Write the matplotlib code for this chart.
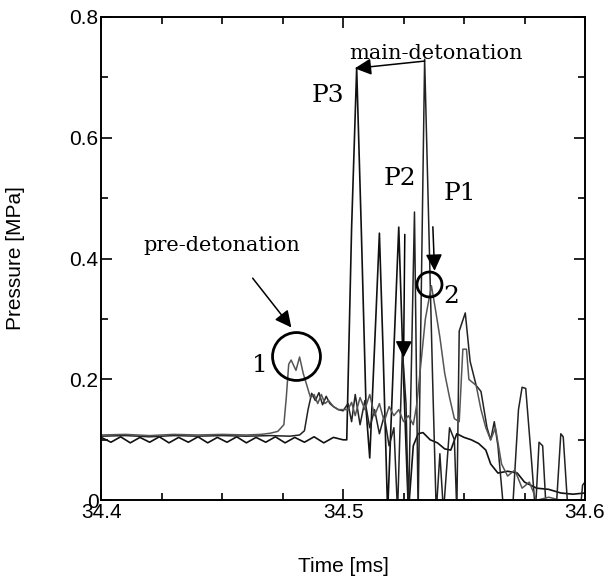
import matplotlib
matplotlib.use("Agg")
import matplotlib.pyplot as plt
from matplotlib.ticker import MultipleLocator

# trace P3 (black): flat oscillating baseline, main detonation peak at 34.5056
t_p3 = [34.400, 34.404, 34.408, 34.412, 34.416, 34.420, 34.424, 34.428, 34.432, 34.436,
        34.440, 34.444, 34.448, 34.452, 34.456, 34.460, 34.464, 34.468, 34.472, 34.476,
        34.480, 34.484, 34.488, 34.492, 34.496, 34.500,
        34.5015, 34.5035, 34.5056, 34.5075, 34.5095, 34.511, 34.5135, 34.515, 34.5165, 34.5184,
        34.521, 34.523, 34.525, 34.527, 34.529, 34.531, 34.533, 34.536, 34.539, 34.542,
        34.5445, 34.547, 34.550, 34.553, 34.556, 34.559, 34.561, 34.564, 34.568, 34.572,
        34.575, 34.580, 34.585, 34.590, 34.595, 34.600]
p_p3 = [0.104, 0.096, 0.105, 0.095, 0.104, 0.096, 0.105, 0.095, 0.104, 0.096,
        0.105, 0.095, 0.104, 0.096, 0.105, 0.095, 0.104, 0.096, 0.105, 0.095,
        0.104, 0.096, 0.105, 0.095, 0.104, 0.100,
        0.100, 0.450, 0.715, 0.450, 0.150, 0.070, 0.300, 0.442, 0.250, -0.02,
        0.250, 0.452, 0.200, -0.02, 0.090, 0.110, 0.112, 0.100, 0.095, 0.085,
        0.083, 0.110, 0.104, 0.100, 0.094, 0.083, 0.060, 0.045, 0.048, 0.045,
        0.030, 0.020, 0.018, 0.012, 0.010, 0.012]

# trace P2 (black): second rise near 34.485, spike to 0.73 at 34.534
t_p2 = [34.400, 34.410, 34.420, 34.430, 34.440, 34.450, 34.460, 34.470, 34.478, 34.482,
        34.484, 34.4855, 34.487, 34.4885, 34.490, 34.4915, 34.493, 34.4945, 34.496, 34.498,
        34.500, 34.502, 34.5035, 34.505, 34.507, 34.509, 34.511, 34.513, 34.515, 34.517,
        34.519, 34.521, 34.5225, 34.5245, 34.526, 34.527, 34.5295, 34.531, 34.5337, 34.537,
        34.5385, 34.540, 34.5415, 34.544, 34.546, 34.547, 34.548, 34.5505, 34.5525, 34.555,
        34.557, 34.5595, 34.561, 34.5625, 34.564, 34.566, 34.570, 34.5725, 34.574, 34.5755,
        34.578, 34.5795, 34.581, 34.5825, 34.584, 34.588, 34.590, 34.591, 34.593, 34.598,
        34.599, 34.600]
p_p2 = [0.106, 0.107, 0.105, 0.107, 0.106, 0.107, 0.106, 0.107, 0.106, 0.108,
        0.115, 0.150, 0.177, 0.165, 0.178, 0.158, 0.172, 0.160, 0.155, 0.150,
        0.148, 0.160, 0.130, 0.175, 0.125, 0.165, 0.120, 0.150, 0.110, 0.140,
        0.090, 0.120, -0.02, 0.250, 0.160, -0.02, 0.477, -0.02, 0.730, 0.200,
        -0.02, 0.077, -0.02, 0.120, 0.100, -0.02, 0.280, 0.310, 0.230, 0.190,
        0.180, 0.120, 0.100, 0.130, 0.090, 0.000, -0.02, 0.150, 0.187, 0.185,
        0.060, -0.02, 0.096, 0.090, -0.02, -0.02, 0.110, 0.105, -0.02, -0.02,
        0.025, 0.030]

# trace P1 (grey): pre-detonation bump at 34.48, peak 0.36 at 34.537
t_p1 = [34.400, 34.410, 34.420, 34.430, 34.440, 34.450, 34.460, 34.466, 34.470, 34.473,
        34.4755, 34.4765, 34.4775, 34.4785, 34.4805, 34.482, 34.4835, 34.485, 34.4865, 34.488,
        34.4895, 34.491, 34.4925, 34.494, 34.496, 34.498, 34.500, 34.502, 34.5035, 34.505,
        34.507, 34.509, 34.511, 34.513, 34.515, 34.517, 34.519, 34.521, 34.523, 34.525,
        34.527, 34.529, 34.5305, 34.532, 34.534, 34.5365, 34.538, 34.540, 34.542, 34.544,
        34.546, 34.548, 34.5495, 34.551, 34.552, 34.555, 34.557, 34.559, 34.561, 34.563,
        34.5655, 34.568, 34.571, 34.574, 34.577, 34.580, 34.585, 34.590, 34.600]
p_p1 = [0.108, 0.109, 0.107, 0.109, 0.108, 0.109, 0.108, 0.109, 0.111, 0.114,
        0.125, 0.170, 0.225, 0.232, 0.215, 0.237, 0.210, 0.190, 0.170, 0.175,
        0.160, 0.175, 0.160, 0.165, 0.155, 0.150, 0.150, 0.150, 0.162, 0.140,
        0.170, 0.150, 0.175, 0.140, 0.160, 0.130, 0.155, 0.140, 0.150, 0.130,
        0.140, 0.125, 0.160, 0.220, 0.300, 0.355, 0.320, 0.270, 0.210, 0.170,
        0.135, 0.130, 0.250, 0.250, 0.200, 0.190, 0.150, 0.120, 0.100, 0.120,
        0.060, 0.040, 0.050, 0.020, 0.030, 0.000, 0.005, 0.000, 0.000]

fig = plt.figure(figsize=(6.1, 5.81), dpi=100)
ax = fig.add_axes([0.166, 0.139, 0.793, 0.832])

ax.plot(t_p3, p_p3, color="#111111", lw=1.2)
ax.plot(t_p2, p_p2, color="#222222", lw=1.1)
ax.plot(t_p1, p_p1, color="#555555", lw=1.1)

ax.set_xlim(34.4, 34.6)
ax.set_ylim(0, 0.8)
ax.xaxis.set_major_locator(MultipleLocator(0.1))
ax.xaxis.set_minor_locator(MultipleLocator(0.025))
ax.yaxis.set_major_locator(MultipleLocator(0.2))
ax.yaxis.set_minor_locator(MultipleLocator(0.1))
ax.xaxis.set_major_formatter(plt.FuncFormatter(lambda v, _: f"{v:.1f}"))
ax.yaxis.set_major_formatter(plt.FuncFormatter(lambda v, _: "0" if abs(v) < 1e-9 else f"{v:.1f}"))
ax.tick_params(which="both", direction="in", top=True, right=True, width=1.2,
               labelsize=15, pad=2)
ax.tick_params(which="major", length=8)
ax.tick_params(which="minor", length=5)
for lab in ax.get_xticklabels() + ax.get_yticklabels():
    lab.set_family("Liberation Sans")
for s in ax.spines.values():
    s.set_linewidth(1.4)

ax.set_xlabel("Time [ms]", fontsize=15, family="Liberation Sans", labelpad=25)
ax.set_ylabel("Pressure [MPa]", fontsize=15, family="Liberation Sans", labelpad=32)

serif = "DejaVu Serif"
ax.text(34.5385, 0.740, "main-detonation", fontsize=15, family=serif, ha="center", va="center")
ax.text(34.4937, 0.6705, "P3", fontsize=18, family=serif, ha="center", va="center")
ax.text(34.5233, 0.5326, "P2", fontsize=18, family=serif, ha="center", va="center")
ax.text(34.5484, 0.5078, "P1", fontsize=18, family=serif, ha="center", va="center")
ax.text(34.4497, 0.4222, "pre-detonation", fontsize=15, family=serif, ha="center", va="center")
ax.text(34.4655, 0.2235, "1", fontsize=18, family=serif, ha="center", va="center")
ax.text(34.5447, 0.3377, "2", fontsize=18, family=serif, ha="center", va="center")

# circles around the two pressure events
ax.plot([34.4804], [0.2384], "o", ms=34.5, mfc="none", mec="k", mew=2.0)
ax.plot([34.5357], [0.3587], "o", ms=18, mfc="none", mec="k", mew=2.0)

arrow = dict(arrowstyle="-|>,head_length=0.5,head_width=0.25", color="k", lw=1.1,
             mutation_scale=20, shrinkA=0, shrinkB=0)
ax.annotate("", xy=(34.5048, 0.7147), xytext=(34.5337, 0.7268), arrowprops=arrow)
ax.annotate("", xy=(34.4786, 0.2859), xytext=(34.4626, 0.3675), arrowprops=arrow)
ax.annotate("", xy=(34.5378, 0.3797), xytext=(34.5371, 0.4525), arrowprops=arrow)
ax.annotate("", xy=(34.5250, 0.2362), xytext=(34.5255, 0.4400), arrowprops=arrow)

fig.savefig("out.png", dpi=100)
